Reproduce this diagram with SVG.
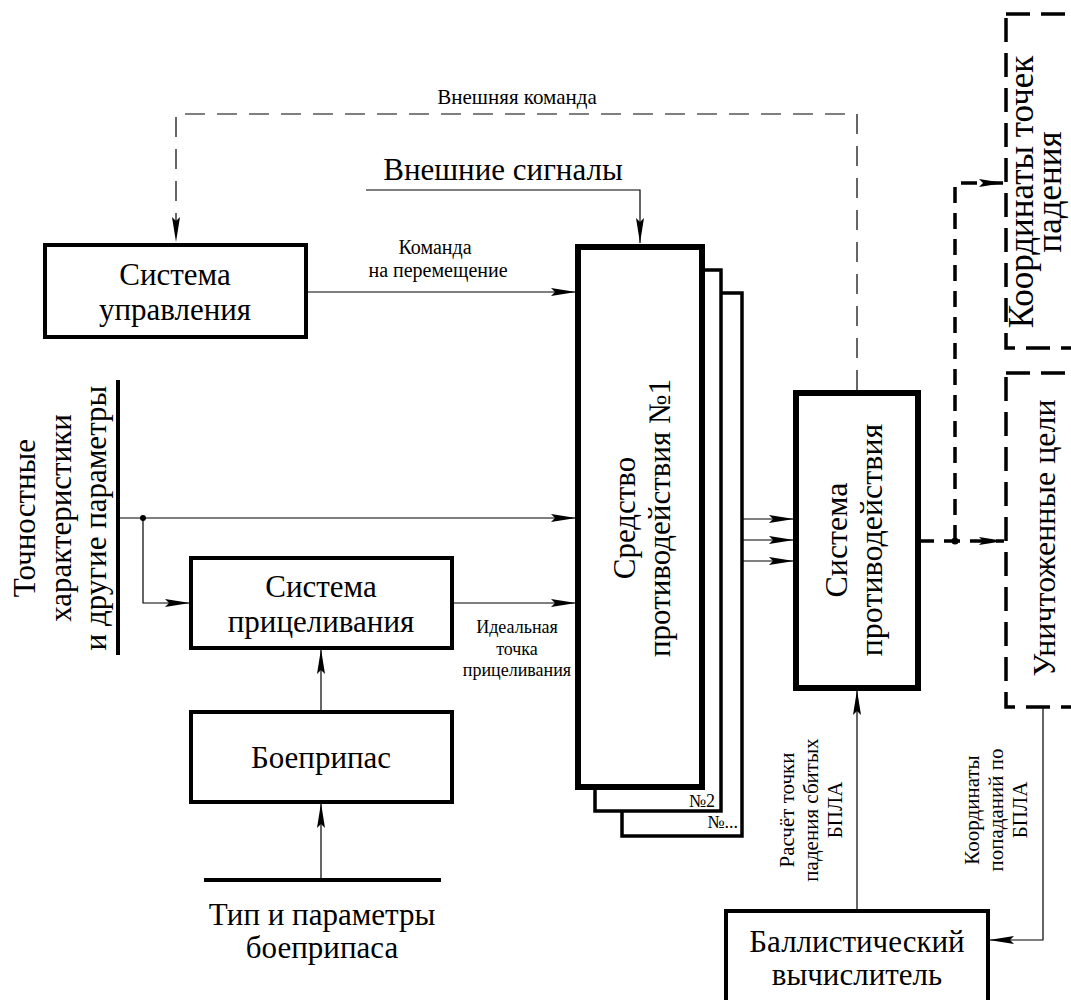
<svg xmlns="http://www.w3.org/2000/svg" width="1071" height="1000" viewBox="0 0 1071 1000" font-family="'Liberation Serif', 'DejaVu Serif', serif">
<style>
text{font-family:'Liberation Serif','DejaVu Serif',serif;fill:#000}
.big{font-size:31px}
.mid{font-size:20px}
.sm{font-size:18px}
.box{fill:#fff;stroke:#000;stroke-width:4}
.thick{fill:#fff;stroke:#000;stroke-width:6}
.back{fill:#fff;stroke:#000;stroke-width:3.5}
.dbox{fill:none;stroke:#000;stroke-width:3.5;stroke-dasharray:24 11}
.ln{fill:none;stroke:#000;stroke-width:1.2}
.dln{fill:none;stroke:#000;stroke-width:1.2;stroke-dasharray:20 12}
.dthick{fill:none;stroke:#000;stroke-width:3.5;stroke-dasharray:16 10}
.bar{stroke:#000;stroke-width:4}
</style>
<defs>
<marker id="arr" markerUnits="userSpaceOnUse" markerWidth="26" markerHeight="10" refX="25" refY="5" orient="auto">
<path d="M0,1 L25,5 L0,9 L4,5 Z" fill="#000"/>
</marker>
</defs>

<g id="connectors">
<path class="dln" d="M857,390 V114 H176 V242" marker-end="url(#arr)"/>
<path class="ln" d="M366,190 H640 V243" marker-end="url(#arr)"/>
<path class="ln" d="M306,292 H576" marker-end="url(#arr)"/>
<line class="bar" x1="118" y1="380" x2="118" y2="655"/>
<path class="ln" d="M118,518 H576" marker-end="url(#arr)"/>
<circle cx="143" cy="518" r="3" fill="#000"/>
<path class="ln" d="M143,518 V603 H190" marker-end="url(#arr)"/>
<path class="ln" d="M452,603 H576" marker-end="url(#arr)"/>
<path class="ln" d="M321,712 V649" marker-end="url(#arr)"/>
<line class="bar" x1="204" y1="880" x2="441" y2="880"/>
<path class="ln" d="M321,880 V803" marker-end="url(#arr)"/>
<path class="ln" d="M703,519 H794" marker-end="url(#arr)"/>
<path class="ln" d="M722,540 H794" marker-end="url(#arr)"/>
<path class="ln" d="M742,561 H794" marker-end="url(#arr)"/>
<path class="dthick" d="M918,541 H1004" marker-end="url(#arr)"/>
<circle cx="955" cy="541" r="3.5" fill="#000"/>
<path class="dthick" d="M955,541 V183 H1004" marker-end="url(#arr)"/>
<path class="ln" d="M857,911 V690" marker-end="url(#arr)"/>
<path class="ln" d="M1043,707 V940 H989" marker-end="url(#arr)"/>
</g>

<text class="mid" x="517" y="104" text-anchor="middle" style="font-size:21px">Внешняя команда</text>
<text class="big" x="503" y="180" text-anchor="middle">Внешние сигналы</text>
<text class="mid" text-anchor="middle"><tspan x="435" y="254">Команда</tspan><tspan x="438" y="277">на перемещение</tspan></text>
<text class="sm" text-anchor="middle"><tspan x="517" y="633">Идеальная</tspan><tspan x="517" y="655">точка</tspan><tspan x="517" y="676">прицеливания</tspan></text>
<text class="big" transform="translate(60,518) rotate(-90)" text-anchor="middle"><tspan x="0" y="-25">Точностные</tspan><tspan x="0" y="11">характеристики</tspan><tspan x="0" y="46">и другие параметры</tspan></text>
<text class="big" text-anchor="middle"><tspan x="322" y="925">Тип и параметры</tspan><tspan x="322" y="958">боеприпаса</tspan></text>
<text class="mid" transform="translate(812,810) rotate(-90)" text-anchor="middle" style="font-size:21px"><tspan x="0" y="-18">Расчёт точки</tspan><tspan x="0" y="6">падения сбитых</tspan><tspan x="0" y="30">БПЛА</tspan></text>
<text class="mid" transform="translate(997,810) rotate(-90)" text-anchor="middle" style="font-size:21px"><tspan x="0" y="-18">Координаты</tspan><tspan x="0" y="6">попаданий по</tspan><tspan x="0" y="30">БПЛА</tspan></text>

<g id="upravlenie">
<rect class="box" x="45" y="245" width="261" height="92"/>
<text class="big" text-anchor="middle"><tspan x="175" y="285">Система</tspan><tspan x="175" y="320">управления</tspan></text>
</g>
<g id="pricelivanie">
<rect class="box" x="191" y="558" width="261" height="90"/>
<text class="big" text-anchor="middle"><tspan x="321" y="597">Система</tspan><tspan x="321" y="632">прицеливания</tspan></text>
</g>
<g id="boepripas">
<rect class="box" x="191" y="712" width="261" height="90"/>
<text class="big" x="321" y="768" text-anchor="middle">Боеприпас</text>
</g>
<g id="sredstvo3">
<rect class="back" x="622" y="293" width="120" height="543"/>
<text class="sm" x="738" y="828" text-anchor="end">№...</text>
</g>
<g id="sredstvo2">
<rect class="back" x="595" y="270" width="126" height="541"/>
<text class="sm" x="715" y="807" text-anchor="end">№2</text>
</g>
<g id="sredstvo1">
<rect class="thick" x="578" y="247" width="124" height="540"/>
<text class="big" transform="translate(642,518) rotate(-90)" text-anchor="middle"><tspan x="0" y="-7">Средство</tspan><tspan x="0" y="28">противодействия №1</tspan></text>
</g>
<g id="sistema-protivodeistviya">
<rect class="thick" x="796" y="393" width="122" height="295"/>
<text class="big" transform="translate(857,540) rotate(-90)" text-anchor="middle" style="font-size:32px"><tspan x="0" y="-10">Система</tspan><tspan x="0" y="25">противодействия</tspan></text>
</g>
<g id="koordinaty-tochek">
<rect class="dbox" x="1006" y="14" width="100" height="334"/>
<text class="big" transform="translate(1036,192) rotate(-90)" text-anchor="middle" style="font-size:35px"><tspan x="0" y="-3">Координаты точек</tspan><tspan x="0" y="25">падения</tspan></text>
</g>
<g id="unichtozhennye">
<rect class="dbox" x="1006" y="373" width="100" height="334"/>
<text class="big" transform="translate(1045,538) rotate(-90)" text-anchor="middle" style="font-size:32px"><tspan x="0" y="10">Уничтоженные цели</tspan></text>
</g>
<g id="ballistic">
<rect class="box" x="726" y="911" width="262" height="110"/>
<text class="big" text-anchor="middle"><tspan x="857" y="952">Баллистический</tspan><tspan x="857" y="985">вычислитель</tspan></text>
</g>
</svg>
